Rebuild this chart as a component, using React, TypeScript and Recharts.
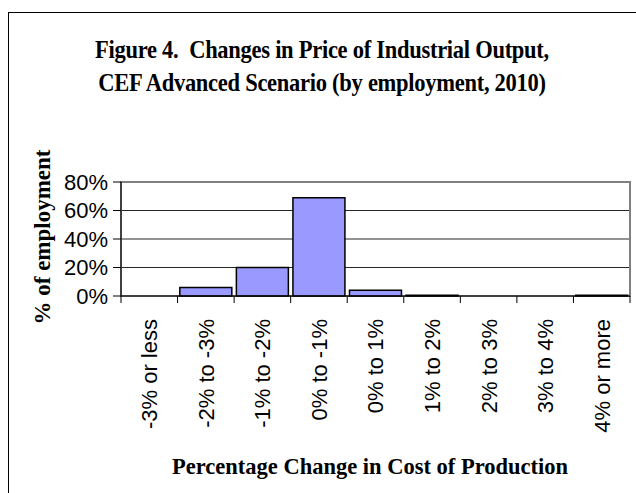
import { BarChart, Bar, XAxis, YAxis, CartesianGrid, ReferenceArea } from 'recharts';

const categories = [
  '-3% or less',
  '-2% to -3%',
  '-1% to -2%',
  '0% to -1%',
  '0% to 1%',
  '1% to 2%',
  '2% to 3%',
  '3% to 4%',
  '4% or more',
];
const employmentShare = [0, 6, 20, 69, 4, 0.5, 0, 0, 0.5];
const yTicks = [0, 20, 40, 60, 80];

const data = categories.map((name, i) => ({ name, share: employmentShare[i] }));

const W = 636;
const H = 493;
const PLOT_LEFT = 121;
const PLOT_RIGHT = 6;
const STEP = (W - PLOT_LEFT - PLOT_RIGHT) / categories.length;

const serif = '"Liberation Serif", "Times New Roman", serif';
const sans = '"Liberation Sans", Arial, sans-serif';

// Excel-style: tick marks sit on the category boundaries, labels turned 90deg
function CategoryTick(props: any) {
  const { x, y, payload, index } = props;
  const last = index === categories.length - 1;
  const ty = y + 15;
  return (
    <g>
      <line x1={x - STEP / 2} x2={x - STEP / 2} y1={y - 8} y2={y - 1} stroke="#000" />
      {last && <line x1={x + STEP / 2} x2={x + STEP / 2} y1={y - 8} y2={y - 1} stroke="#000" />}
      <text
        x={x}
        y={ty}
        dy="0.36em"
        transform={`rotate(-90, ${x}, ${ty})`}
        textAnchor="end"
        fontFamily={sans}
        fontSize={22}
        fill="#000"
      >
        {payload.value}
      </text>
    </g>
  );
}

export default function App() {
  return (
    <div style={{ position: 'fixed', left: 0, top: 0, width: W, height: H, overflow: 'hidden', background: '#fff' }}>
      <div
        style={{
          position: 'absolute',
          left: 8,
          top: 12,
          width: 1000,
          height: 1000,
          border: '1px solid #000',
        }}
      />
      <div
        style={{
          position: 'absolute',
          left: 0,
          top: 33,
          width: 644,
          textAlign: 'center',
          fontFamily: serif,
          fontWeight: 'bold',
          fontSize: 25,
          lineHeight: '33px',
          letterSpacing: -0.3,
          transform: 'scaleX(0.9)',
          transformOrigin: '322px 0',
        }}
      >
        <div>Figure 4.&nbsp; Changes in Price of Industrial Output,</div>
        <div>CEF Advanced Scenario (by employment, 2010)</div>
      </div>
      <div
        style={{
          position: 'absolute',
          left: 43,
          top: 237,
          transform: 'translate(-50%, -50%) rotate(-90deg)',
          whiteSpace: 'nowrap',
          fontFamily: serif,
          fontWeight: 'bold',
          fontSize: 23,
          lineHeight: '26px',
        }}
      >
        % of employment
      </div>
      <div
        style={{
          position: 'absolute',
          left: 0,
          top: 454,
          width: 2 * 370,
          textAlign: 'center',
          fontFamily: serif,
          fontWeight: 'bold',
          fontSize: 22.5,
          lineHeight: '26px',
        }}
      >
        Percentage Change in Cost of Production
      </div>
      <div style={{ position: 'absolute', left: 0, top: 0 }}>
        <BarChart
          width={W}
          height={H}
          data={data}
          margin={{ top: 182, right: PLOT_RIGHT, left: 0, bottom: 0 }}
          barCategoryGap="4%"
        >
          <ReferenceArea
            x1={categories[0]}
            x2={categories[categories.length - 1]}
            y1={0}
            y2={80}
            fill="none"
            stroke="#808080"
            strokeWidth={2}
            ifOverflow="visible"
          />
          <CartesianGrid vertical={false} stroke="#000" strokeOpacity={0.85} />
          <YAxis
            width={PLOT_LEFT}
            domain={[0, 80]}
            ticks={yTicks}
            tickFormatter={(v) => `${v}%`}
            axisLine={{ stroke: '#000' }}
            tickLine={{ stroke: '#000' }}
            tickSize={8}
            tickMargin={5}
            tick={{ fill: '#000', fontFamily: sans, fontSize: 22 }}
            interval={0}
          />
          <XAxis
            dataKey="name"
            height={H - 296}
            interval={0}
            axisLine={{ stroke: '#000' }}
            tickLine={false}
            tick={<CategoryTick />}
          />
          <Bar dataKey="share" fill="#9999FF" stroke="#000" strokeWidth={1.5} isAnimationActive={false} />
        </BarChart>
      </div>
    </div>
  );
}
